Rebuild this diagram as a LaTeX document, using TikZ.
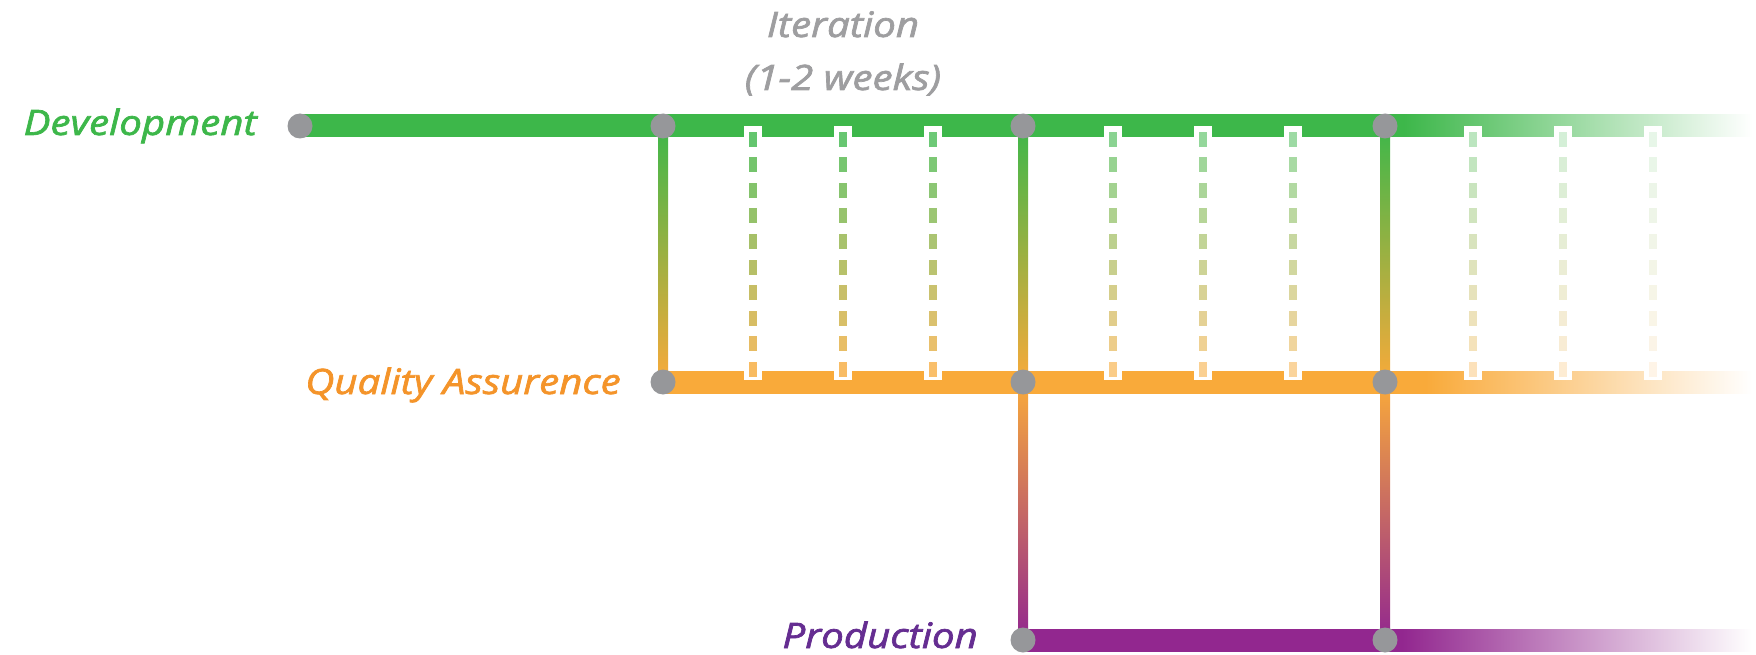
\documentclass[tikz,border=0pt]{standalone}
\usepackage{fontspec}
\usepackage{tikz}
\usetikzlibrary{backgrounds}
\setmainfont{Open Sans}
\newfontfamily\lanefont{Open Sans}[FakeBold=2,FakeStretch=1.15]
\definecolor{devgreen}{RGB}{61,183,74}
\definecolor{qaorange}{RGB}{249,170,58}
\definecolor{qatext}{RGB}{244,148,42}
\definecolor{prodpurple}{RGB}{146,39,143}
\definecolor{prodtext}{RGB}{101,45,145}
\definecolor{dotgrey}{RGB}{150,151,154}
\definecolor{itergrey}{RGB}{158,158,160}
% fading tails of the lanes
\pgfdeclarehorizontalshading{devtail}{100bp}{color(0bp)=(devgreen); color(63bp)=(devgreen); color(75bp)=(white); color(100bp)=(white)}
\pgfdeclarehorizontalshading{qatail}{100bp}{color(0bp)=(qaorange); color(60bp)=(qaorange); color(75bp)=(white); color(100bp)=(white)}
\pgfdeclarehorizontalshading{prodtail}{100bp}{color(0bp)=(prodpurple); color(51bp)=(prodpurple); color(75bp)=(white); color(100bp)=(white)}

\tikzset{
  dot/.style={circle,fill=dotgrey,inner sep=0pt,minimum size=25pt},
  lane/.style={font=\fontsize{35}{40}\lanefont\itshape,inner sep=0pt,anchor=base east},
  iter/.style={font=\fontsize{35}{40}\lanefont\itshape,inner sep=0pt,anchor=base,text=itergrey},
}

\begin{document}
\begin{tikzpicture}[x=1pt,y=-1pt]
\useasboundingbox (0,0) rectangle (1756,655);
% stations
\node[dot] (dev0) at (300,126) {};
\node[dot] (dev1) at (663,126) {};
\node[dot] (dev2) at (1023,126) {};
\node[dot] (dev3) at (1385,126) {};
\node[dot] (qa1) at (663,382) {};
\node[dot] (qa2) at (1023,382) {};
\node[dot] (qa3) at (1385,382) {};
\node[dot] (prod2) at (1023,640) {};
\node[dot] (prod3) at (1385,640) {};
\coordinate (devend) at (1752,126);
\coordinate (qaend) at (1752,382);
\coordinate (prodend) at (1752,640);

\begin{scope}[on background layer]
% main lines
\shade[shading=devtail] ([yshift=11pt]dev0.center) rectangle ([yshift=-11pt]devend);
\shade[shading=qatail] ([yshift=11pt]qa1.center) rectangle ([yshift=-11pt]qaend);
\shade[shading=prodtail] ([yshift=11pt]prod2.center) rectangle ([yshift=-11pt]prodend);

% hand-overs
\shade[top color=devgreen,bottom color=qaorange] ([xshift=-5pt]dev1.center) rectangle ([xshift=5pt]qa1.center);
\shade[top color=devgreen,bottom color=prodpurple,middle color=qaorange] ([xshift=-5pt]dev2.center) rectangle ([xshift=5pt]prod2.center);
\shade[top color=devgreen,bottom color=prodpurple,middle color=qaorange] ([xshift=-5pt]dev3.center) rectangle ([xshift=5pt]prod3.center);

% iterations
\foreach \x/\op in {753/0.8,843/0.78,933/0.75,1113/0.6,1203/0.55,1293/0.5,1473/0.35,1563/0.22,1653/0.12} {
  \fill[white] (\x-9,126) rectangle (\x+9,380);
  \foreach \k in {0,...,9} {
    \pgfmathsetmacro\p{100-\k*11}
    \fill[devgreen!\p!qaorange,opacity=\op] (\x-4,132+\k*25.5) rectangle (\x+4,147+\k*25.5);
  }
}
\end{scope}

% labels
\node[lane,text=devgreen] (devlabel) at (257,135) {Development};
\node[lane,text=qatext] (qalabel) at (621,394) {Quality Assurence};
\node[lane,text=prodtext] (prodlabel) at (978,648) {Production};
\node[iter] (iterlabel) at (843,37) {Iteration};
\node[iter] (iterweeks) at (843,90) {(1-2 weeks)};
\end{tikzpicture}
\end{document}
